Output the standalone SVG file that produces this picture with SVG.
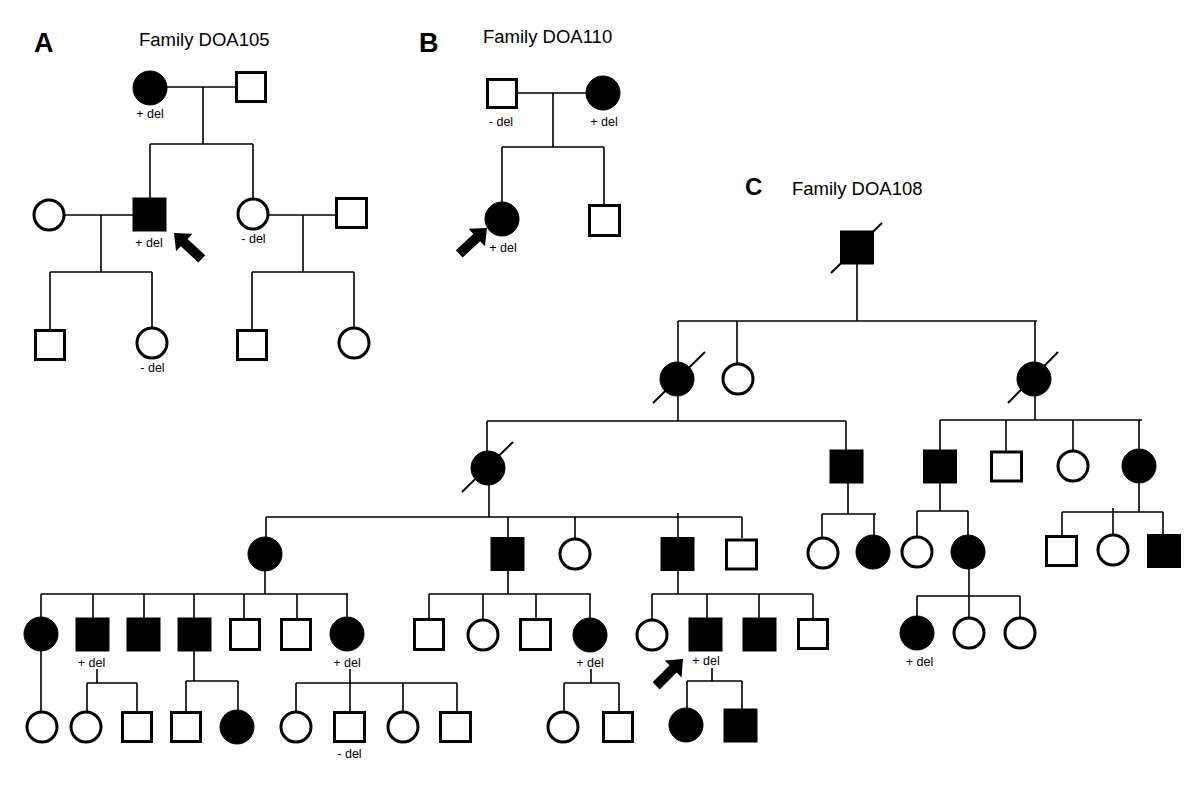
<svg xmlns="http://www.w3.org/2000/svg" width="1200" height="792" viewBox="0 0 1200 792">
<style>
.o{fill:#fff;stroke:#000;stroke-width:3}
.f{fill:#000;stroke:#000;stroke-width:1}
.ln{fill:none;stroke:#000;stroke-width:1.6}
.sl{fill:none;stroke:#000;stroke-width:2}
.t{font-family:"Liberation Sans",Arial,sans-serif;fill:#000}
.ttl{font-size:18.5px}
.lab{font-size:12.5px;text-anchor:middle}
.big{font-size:27px;font-weight:bold}
</style>
<defs>
<path id="arr" d="M0,0 L-14,-12 L-14,-5 L-38,-5 L-38,5 L-14,5 L-14,12 Z" fill="#000"/>
</defs>
<rect width="1200" height="792" fill="#fff"/>

<!-- titles -->
<text class="t big" x="34" y="52">A</text>
<text class="t ttl" x="139" y="46">Family DOA105</text>
<text class="t big" x="419" y="52">B</text>
<text class="t ttl" x="483" y="43">Family DOA110</text>
<text class="t big" x="745" y="195" style="font-size:24px">C</text>
<text class="t ttl" x="792" y="195">Family DOA108</text>

<g id="connectors">
<!-- A -->
<path class="ln" d="M166,87H235 M203,87V144 M150,144H253 M150,144V198 M253,144V198"/>
<path class="ln" d="M65,215H133 M101,215V272 M50,272H152 M50,272V329 M152,272V327"/>
<path class="ln" d="M269,215H335 M303,215V272 M252,272H354 M252,272V329 M354,272V327"/>
<!-- B -->
<path class="ln" d="M518,93H586 M553,93V147 M502,147H604 M502,147V202 M604,147V204"/>
<!-- C gen I-II -->
<path class="ln" d="M857,264V321 M678,321H1037 M678,321V362 M737,321V363 M1035,321V362"/>
<!-- C gen II-III -->
<path class="ln" d="M678,396V421 M487,421H846 M487,421V451 M846,421V450"/>
<path class="ln" d="M1035,396V420 M940,420H1142 M940,420V450 M1006,420V451 M1073,420V450 M1139,420V449"/>
<!-- C gen III-IV -->
<path class="ln" d="M489,485V517 M266,517H742 M266,517V537 M508,517V537 M575,517V538 M678,513V537 M742,517V538"/>
<path class="ln" d="M848,483V514 M822,514H876 M822,514V537 M874,514V535"/>
<path class="ln" d="M940,483V511 M917,511H968 M917,511V536 M968,511V535"/>
<path class="ln" d="M1139,483V512 M1062,512H1163 M1062,512V535 M1113,508V534 M1163,512V535"/>
<!-- C gen IV-V -->
<path class="ln" d="M265,571V594 M41,594H348 M41,594V617 M93,594V618 M144,594V618 M194,594V618 M244,594V618 M297,594V618 M347,594V617"/>
<path class="ln" d="M508,571V594 M429,594H591 M429,594V618 M483,594V619 M536,594V618 M590,594V618"/>
<path class="ln" d="M678,571V594 M652,594H813 M652,594V619 M707,594V618 M759,594V618 M813,594V618"/>
<path class="ln" d="M969,569V596 M917,596H1020 M917,596V616 M969,596V617 M1020,596V617"/>
<!-- C gen V-VI -->
<path class="ln" d="M41,651V711"/>
<path class="ln" d="M97,669V683 M87,683H137 M87,683V711 M137,683V711"/>
<path class="ln" d="M194,651V681 M186,681H238 M186,681V711 M238,681V710"/>
<path class="ln" d="M350,669V683 M296,683H457 M296,683V711 M350,683V711 M403,683V711 M457,683V711"/>
<path class="ln" d="M591,669V683 M564,683H619 M564,683V711 M619,683V711"/>
<path class="ln" d="M712,668V681 M687,681H742 M687,681V708 M742,681V709"/>
</g>

<!-- Panel A nodes -->
<g id="A_I1"><circle class="f" cx="150" cy="88" r="17"/><text class="t lab" x="150" y="118">+ del</text></g>
<g id="A_I2"><rect class="o" x="236.5" y="72.5" width="29" height="29"/></g>
<g id="A_II1"><circle class="o" cx="49" cy="215" r="15"/></g>
<g id="A_II2"><rect class="f" x="133" y="198" width="33" height="33"/><text class="t lab" x="149" y="247">+ del</text></g>
<g id="A_II3"><circle class="o" cx="253" cy="214" r="15"/><text class="t lab" x="253.5" y="243">- del</text></g>
<g id="A_II4"><rect class="o" x="336.5" y="198.5" width="30" height="29"/></g>
<g id="A_III1"><rect class="o" x="35.5" y="330.5" width="29" height="29"/></g>
<g id="A_III2"><circle class="o" cx="152" cy="343" r="15"/><text class="t lab" x="152.5" y="372">- del</text></g>
<g id="A_III3"><rect class="o" x="237.5" y="330.5" width="29" height="29"/></g>
<g id="A_III4"><circle class="o" cx="354" cy="343" r="15"/></g>
<g id="A_arrow"><use href="#arr" transform="translate(174,233) rotate(-137)"/></g>

<!-- Panel B nodes -->
<g id="B_I1"><rect class="o" x="487.5" y="79.5" width="29" height="28"/><text class="t lab" x="501" y="126">- del</text></g>
<g id="B_I2"><circle class="f" cx="603" cy="93" r="17"/><text class="t lab" x="604" y="126">+ del</text></g>
<g id="B_II1"><circle class="f" cx="502" cy="219" r="17"/><text class="t lab" x="503" y="252">+ del</text></g>
<g id="B_II2"><rect class="o" x="589.5" y="205.5" width="30" height="30"/></g>
<g id="B_arrow"><use href="#arr" transform="translate(487,228) rotate(-43)"/></g>

<!-- Panel C nodes -->
<g id="C_I1"><rect class="f" x="840.5" y="231" width="33" height="33"/><line class="sl" x1="831" y1="273" x2="882" y2="223"/></g>
<g id="C_II1"><circle class="f" cx="677" cy="379" r="17"/><line class="sl" x1="653" y1="403" x2="705" y2="352"/></g>
<g id="C_II2"><circle class="o" cx="738" cy="379" r="15"/></g>
<g id="C_II3"><circle class="f" cx="1034" cy="379" r="17"/><line class="sl" x1="1008" y1="403" x2="1058" y2="352"/></g>
<g id="C_III1"><circle class="f" cx="488" cy="468" r="17"/><line class="sl" x1="462" y1="492" x2="513" y2="442"/></g>
<g id="C_III2"><rect class="f" x="830" y="450" width="33" height="33"/></g>
<g id="C_III3"><rect class="f" x="923.5" y="450" width="33" height="33"/></g>
<g id="C_III4"><rect class="o" x="991.5" y="452" width="30" height="29"/></g>
<g id="C_III5"><circle class="o" cx="1073" cy="466" r="15"/></g>
<g id="C_III6"><circle class="f" cx="1139" cy="466" r="17"/></g>
<g id="C_IV1"><circle class="f" cx="265" cy="554" r="17"/></g>
<g id="C_IV2"><rect class="f" x="491" y="537.5" width="33" height="33"/></g>
<g id="C_IV3"><circle class="o" cx="575" cy="554" r="15"/></g>
<g id="C_IV4"><rect class="f" x="661" y="537.5" width="33" height="33"/></g>
<g id="C_IV5"><rect class="o" x="726.5" y="540" width="30" height="29"/></g>
<g id="C_IV6"><circle class="o" cx="823" cy="553" r="15"/></g>
<g id="C_IV7"><circle class="f" cx="873" cy="552" r="17"/></g>
<g id="C_IV8"><circle class="o" cx="917" cy="552" r="15"/></g>
<g id="C_IV9"><circle class="f" cx="968" cy="552" r="17"/></g>
<g id="C_IV10"><rect class="o" x="1046.5" y="536.5" width="30" height="29"/></g>
<g id="C_IV11"><circle class="o" cx="1113" cy="550" r="15"/></g>
<g id="C_IV12"><rect class="f" x="1147.5" y="534.5" width="33" height="33"/></g>
<g id="C_V1"><circle class="f" cx="41" cy="634" r="17"/></g>
<g id="C_V2"><rect class="f" x="76" y="618" width="33" height="33"/><text class="t lab" x="91.5" y="667">+ del</text></g>
<g id="C_V3"><rect class="f" x="127" y="618" width="33" height="33"/></g>
<g id="C_V4"><rect class="f" x="178" y="618" width="33" height="33"/></g>
<g id="C_V5"><rect class="o" x="230.5" y="619.5" width="29" height="30"/></g>
<g id="C_V6"><rect class="o" x="281.5" y="619.5" width="29" height="30"/></g>
<g id="C_V7"><circle class="f" cx="347" cy="634" r="17"/><text class="t lab" x="347" y="667">+ del</text></g>
<g id="C_V8"><rect class="o" x="414.5" y="619.5" width="29" height="30"/></g>
<g id="C_V9"><circle class="o" cx="483" cy="635" r="15"/></g>
<g id="C_V10"><rect class="o" x="520.5" y="619.5" width="30" height="30"/></g>
<g id="C_V11"><circle class="f" cx="590" cy="635" r="17"/><text class="t lab" x="590" y="667">+ del</text></g>
<g id="C_V12"><circle class="o" cx="652" cy="635" r="15"/></g>
<g id="C_V13"><rect class="f" x="689" y="618" width="33" height="33"/><text class="t lab" x="706" y="665">+ del</text></g>
<g id="C_V14"><rect class="f" x="743" y="618" width="33" height="33"/></g>
<g id="C_V15"><rect class="o" x="798.5" y="619.5" width="29" height="29"/></g>
<g id="C_V16"><circle class="f" cx="917" cy="633" r="17"/><text class="t lab" x="919.5" y="666">+ del</text></g>
<g id="C_V17"><circle class="o" cx="969" cy="633" r="15"/></g>
<g id="C_V18"><circle class="o" cx="1020" cy="633" r="15"/></g>
<g id="C_arrow"><use href="#arr" transform="translate(683,659) rotate(-45)"/></g>
<g id="C_VI1"><circle class="o" cx="42" cy="727" r="15"/></g>
<g id="C_VI2"><circle class="o" cx="86" cy="727" r="15"/></g>
<g id="C_VI3"><rect class="o" x="122.5" y="712.5" width="29" height="29"/></g>
<g id="C_VI4"><rect class="o" x="171.5" y="712.5" width="29" height="29"/></g>
<g id="C_VI5"><circle class="f" cx="237" cy="727" r="17"/></g>
<g id="C_VI6"><circle class="o" cx="296" cy="727" r="15"/></g>
<g id="C_VI7"><rect class="o" x="334.5" y="712.5" width="30" height="29"/><text class="t lab" x="349.5" y="758">- del</text></g>
<g id="C_VI8"><circle class="o" cx="403" cy="727" r="15"/></g>
<g id="C_VI9"><rect class="o" x="440.5" y="712.5" width="30" height="29"/></g>
<g id="C_VI10"><circle class="o" cx="563" cy="727" r="15"/></g>
<g id="C_VI11"><rect class="o" x="603.5" y="712.5" width="29" height="29"/></g>
<g id="C_VI12"><circle class="f" cx="686" cy="725" r="17"/></g>
<g id="C_VI13"><rect class="f" x="724" y="709" width="33" height="33"/></g>
</svg>
